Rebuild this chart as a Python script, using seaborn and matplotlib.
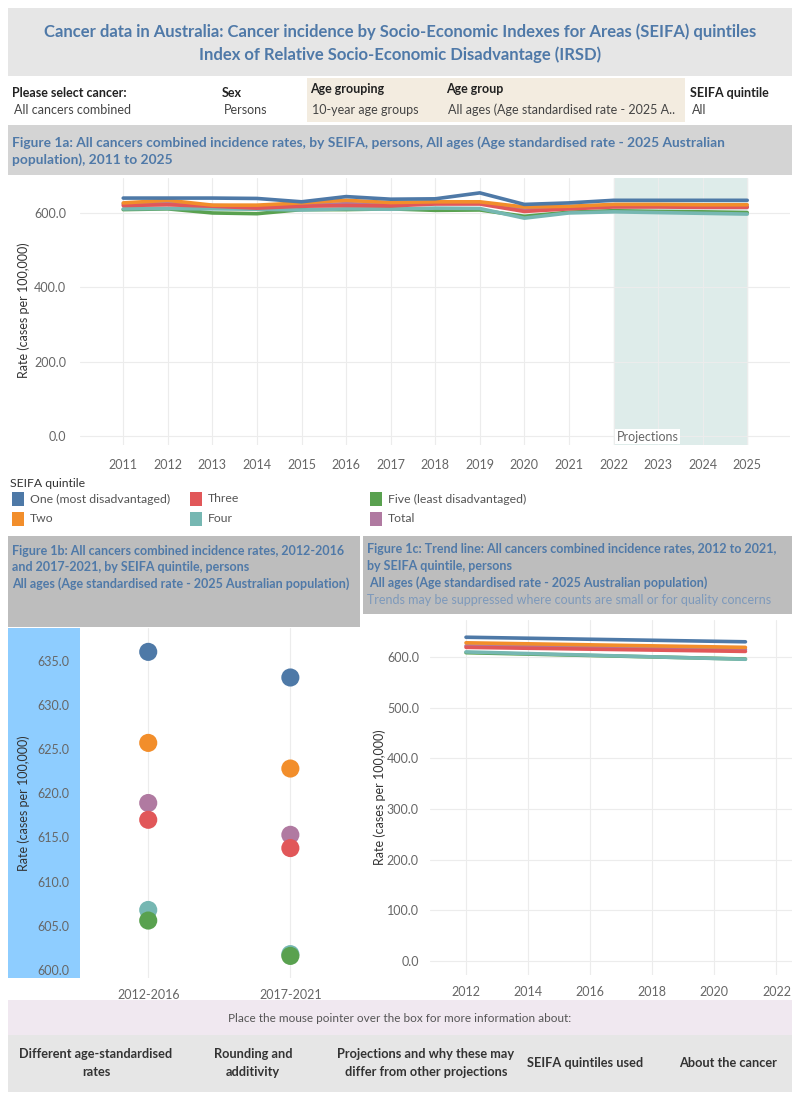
import numpy as np
import pandas as pd
import matplotlib.pyplot as plt
import seaborn as sns
from matplotlib.patches import Rectangle

# Datos
quintiles = ['One (most disadvantaged)', 'Two', 'Three', 'Four',
             'Five (least disadvantaged)', 'Total']
colores = ['#4e79a7', '#f28e2b', '#e15759', '#76b7b2', '#59a14f', '#b07aa1']

anios = list(range(2011, 2026))
tasa_one = [640, 640, 640, 639, 630, 644, 637, 638, 654, 623, 627, 634, 634, 634, 634]
tasa_two = [627, 634, 621, 621, 627, 634, 628, 630, 630, 616, 618, 623, 623, 622, 622]
tasa_three = [620, 622, 618, 613, 618, 620, 619, 624, 624, 604, 611, 616, 616, 615, 615]
tasa_four = [611, 612, 611, 610, 608, 611, 610, 613, 612, 586, 600, 603, 601, 599, 597]
tasa_five = [609, 611, 600, 598, 609, 609, 611, 607, 608, 591, 602, 606, 604, 603, 601]
tasa_total = [624, 628, 620, 618, 620, 625, 622, 626, 627, 608, 613, 619, 618, 618, 617]

periodos = ['2012-2016', '2017-2021']
periodo_valores = {
    'One (most disadvantaged)': [636.0, 633.1],
    'Two': [625.7, 622.8],
    'Three': [617.0, 613.8],
    'Four': [606.8, 601.8],
    'Five (least disadvantaged)': [605.6, 601.6],
    'Total': [618.9, 615.3],
}

tendencia_anios = [2012, 2021]
tendencia_inicio = [639, 628, 619, 610, 608.5, 622]
tendencia_fin = [630, 619, 611, 595.5, 596, 615]

AZUL_TXT = '#4f79a8'
GRIS_TXT = '#666666'

sns.set_theme(style='white')
plt.rcParams['font.family'] = ['Lato', 'DejaVu Sans']

fig = plt.figure(figsize=(8, 11), dpi=100)
W, H = 800, 1100


def caja(x0, y0, x1, y1, color):
    fig.add_artist(Rectangle((x0 / W, 1 - y1 / H), (x1 - x0) / W, (y1 - y0) / H,
                             transform=fig.transFigure, color=color, zorder=-1, lw=0))


def texto(x, y, s, **kw):
    fig.text(x / W, 1 - y / H, s, va='center', **kw)


def ejes(x0, y0, x1, y1):
    return fig.add_axes([x0 / W, 1 - y1 / H, (x1 - x0) / W, (y1 - y0) / H])


# Titulo
caja(8, 8, 792, 76, '#e6e6e6')
texto(400, 32, 'Cancer data in Australia: Cancer incidence by Socio-Economic Indexes for Areas (SEIFA) quintiles',
      ha='center', color=AZUL_TXT, fontsize=12, fontweight='bold')
texto(400, 55, 'Index of Relative Socio-Economic Disadvantage (IRSD)',
      ha='center', color=AZUL_TXT, fontsize=12, fontweight='bold')

# Filtros
caja(307, 78, 685, 122, '#f3ece0')
filtros = [(12, 'Please select cancer:', 'All cancers combined'),
           (222, 'Sex', 'Persons'),
           (310, 'Age grouping', '10-year age groups'),
           (446, 'Age group', 'All ages (Age standardised rate - 2025 A..'),
           (690, 'SEIFA quintile', 'All')]
for x, etiqueta, valor in filtros:
    yl = 89 if 300 < x < 690 else 93
    texto(x, yl, etiqueta, fontsize=9, fontweight='bold', color='#222222')
    texto(x + 2, 110, valor, fontsize=9, color='#444444')

# Figura 1a
caja(8, 125, 792, 175, '#d4d4d4')
texto(12, 143, 'Figure 1a: All cancers combined incidence rates, by SEIFA, persons, All ages (Age standardised rate - 2025 Australian',
      fontsize=9.9, fontweight='bold', color=AZUL_TXT)
texto(12, 160, 'population), 2011 to 2025', fontsize=9.9, fontweight='bold', color=AZUL_TXT)

df_a = pd.DataFrame({'Año': anios * 6,
                     'Tasa': tasa_one + tasa_two + tasa_three + tasa_four + tasa_five + tasa_total,
                     'Quintil': np.repeat(quintiles, len(anios))})
orden_dibujo = ['Total', 'Five (least disadvantaged)', 'Four', 'Three', 'Two', 'One (most disadvantaged)']
paleta = dict(zip(quintiles, colores))

ax1 = ejes(80, 178, 790, 445)
ax1.axvspan(2022, 2025, color='#deecea', zorder=0)
for q in orden_dibujo:
    sns.lineplot(data=df_a[df_a['Quintil'] == q], x='Año', y='Tasa', color=paleta[q],
                 linewidth=2.6, ax=ax1, legend=False, zorder=3)
ax1.set_xlim(2010.03, 2025.96)
ax1.set_ylim(-24, 694)
ax1.set_xticks(anios)
ax1.set_yticks([0, 200, 400, 600])
ax1.set_yticklabels([f'{v:.1f}' for v in [0, 200, 400, 600]])
ax1.grid(True, color='#ececec', linewidth=0.8)
ax1.set_axisbelow(True)
for s in ax1.spines.values():
    s.set_visible(False)
ax1.tick_params(length=0, labelsize=9, labelcolor=GRIS_TXT, pad=10)
ax1.set_xlabel('')
ax1.set_ylabel('')
ax1.text(2022.07, -2, 'Projections', fontsize=9, color=GRIS_TXT, va='center',
         bbox=dict(facecolor='white', edgecolor='none', pad=1), zorder=4)
texto(24, 310, 'Rate (cases per 100,000)', rotation=90, ha='center', fontsize=9, color='#333333')

# Leyenda
texto(10, 484, 'SEIFA quintile', fontsize=8.8, color='#333333')
pos_leyenda = [(12, 499), (12, 519), (190, 499), (190, 519), (370, 499), (370, 519)]
for (x, y), q, c in zip(pos_leyenda, quintiles, colores):
    caja(x, y - 7, x + 12, y + 7, c)
    texto(x + 18, y, q, fontsize=8.8, color='#555555')

# Figura 1b cabecera
caja(8, 536, 360, 627, '#bdbdbd')
for y, s in zip([551, 567, 584], ['Figure 1b: All cancers combined incidence rates, 2012-2016',
                                  'and 2017-2021, by SEIFA quintile, persons',
                                  'All ages (Age standardised rate - 2025 Australian population)']):
    texto(12, y, s, fontsize=9, fontweight='bold', color=AZUL_TXT)

# Figura 1c cabecera
caja(363, 536, 792, 614, '#bdbdbd')
for y, s in zip([549, 566, 583], ['Figure 1c: Trend line: All cancers combined incidence rates, 2012 to 2021,',
                                  'by SEIFA quintile, persons',
                                  ' All ages (Age standardised rate - 2025 Australian population)']):
    texto(367, y, s, fontsize=9, fontweight='bold', color=AZUL_TXT)
texto(367, 600, 'Trends may be suppressed where counts are small or for quality concerns',
      fontsize=9, color='#7d99bb')

# Figura 1b puntos
caja(8, 628, 80, 978, '#8ecdff')
filas = []
for q in quintiles:
    for p, v in zip(periodos, periodo_valores[q]):
        filas.append({'Periodo': p, 'Tasa': v, 'Quintil': q})
df_b = pd.DataFrame(filas)
orden_b = ['One (most disadvantaged)', 'Two', 'Total', 'Three', 'Four', 'Five (least disadvantaged)']
df_b['Quintil'] = pd.Categorical(df_b['Quintil'], orden_b)
df_b = df_b.sort_values('Quintil')

ax2 = ejes(80, 628, 360, 978)
sns.scatterplot(data=df_b, x='Periodo', y='Tasa', hue='Quintil', palette=paleta,
                s=170, edgecolor='none', ax=ax2, legend=False, zorder=3)
ax2.set_xlim(-0.48, 1.49)
ax2.set_ylim(599.1, 638.7)
ax2.set_yticks(np.arange(600, 636, 5))
ax2.set_yticklabels([f'{v:.1f}' for v in np.arange(600, 636, 5)])
ax2.grid(True, axis='x', color='#ececec', linewidth=0.8)
ax2.set_axisbelow(True)
for s in ax2.spines.values():
    s.set_visible(False)
ax2.tick_params(length=0, labelsize=9, labelcolor=GRIS_TXT, pad=8)
ax2.set_xlabel('')
ax2.set_ylabel('')
texto(24, 803, 'Rate (cases per 100,000)', rotation=90, ha='center', fontsize=9, color='#333333')

# Figura 1c tendencias
df_c = pd.DataFrame({'Año': tendencia_anios * 6,
                     'Tasa': [v for par in zip(tendencia_inicio, tendencia_fin) for v in par],
                     'Quintil': np.repeat(quintiles, 2)})
ax3 = ejes(430, 620, 792, 975)
for q in orden_dibujo:
    sns.lineplot(data=df_c[df_c['Quintil'] == q], x='Año', y='Tasa', color=paleta[q],
                 linewidth=2.6, ax=ax3, legend=False, zorder=3)
ax3.set_xlim(2010.84, 2022.5)
ax3.set_ylim(-27.6, 673)
ax3.set_xticks(range(2012, 2023, 2))
ax3.set_yticks(range(0, 601, 100))
ax3.set_yticklabels([f'{v:.1f}' for v in range(0, 601, 100)])
ax3.grid(True, color='#ececec', linewidth=0.8)
ax3.set_axisbelow(True)
for s in ax3.spines.values():
    s.set_visible(False)
ax3.tick_params(length=0, labelsize=9, labelcolor=GRIS_TXT, pad=8)
ax3.set_xlabel('')
ax3.set_ylabel('')
texto(380, 797, 'Rate (cases per 100,000)', rotation=90, ha='center', fontsize=9, color='#333333')

# Pie
caja(8, 1000, 792, 1035, '#f0e8f0')
texto(400, 1018, 'Place the mouse pointer over the box for more information about:',
      ha='center', fontsize=8.5, color='#555555')
caja(8, 1035, 792, 1092, '#e6e6e6')
botones = [(96, 'Different age-standardised\nrates'), (253, 'Rounding and\nadditivity'),
           (426, 'Projections and why these may\ndiffer from other projections'),
           (585, 'SEIFA quintiles used'), (728, 'About the cancer')]
for x, s in botones:
    texto(x, 1063, s, ha='center', fontsize=9.2, fontweight='bold', color='#333333', linespacing=1.5)

fig.savefig('out.png', dpi=100)
